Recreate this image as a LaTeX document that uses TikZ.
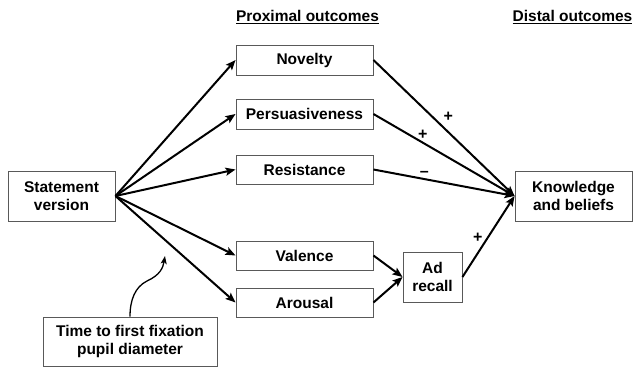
\documentclass[tikz,border=0pt]{standalone}
\usepackage{fontspec}
\setmainfont{Liberation Sans}
\usetikzlibrary{arrows.meta}
\definecolor{boxline}{gray}{0.35}
\tikzset{
  box/.style={draw=boxline, line width=0.9pt, fill=white, inner sep=0pt, align=center,
    font=\fontsize{15.5}{18.5}\selectfont\bfseries},
  arr/.style={line width=2pt, -{Stealth[length=10pt,width=8pt,inset=2pt]}},
  lbl/.style={font=\fontsize{16}{18}\selectfont\bfseries, inner sep=1pt},
  hdr/.style={font=\fontsize{15.5}{18}\selectfont\bfseries, inner sep=0pt},
}
\begin{document}
\begin{tikzpicture}[x=1pt,y=-1pt]
\useasboundingbox (0,0) rectangle (635,374);
% headers
\node[hdr] (hp) at (307.5,17) {\underline{Proximal outcomes}};
\node[hdr] (hd) at (572.5,17) {\underline{Distal outcomes}};
% boxes
\node[box, minimum width=107pt, minimum height=50pt] (stmt) at (61.5,196) {Statement\\version};
\node[box, minimum width=137pt, minimum height=30pt] (nov) at (304.5,60) {Novelty};
\node[box, minimum width=137pt, minimum height=30pt] (per) at (304.5,114) {Persuasiveness};
\node[box, minimum width=137pt, minimum height=29pt] (res) at (304.5,169.5) {Resistance};
\node[box, minimum width=137pt, minimum height=29pt] (val) at (304.5,255.5) {Valence};
\node[box, minimum width=137pt, minimum height=29pt] (aro) at (304.5,302.5) {Arousal};
\node[box, minimum width=59pt, minimum height=50pt] (ad) at (432.5,277) {Ad\\recall};
\node[box, minimum width=117pt, minimum height=50pt] (kb) at (573.5,196) {Knowledge\\and beliefs};
\node[box, minimum width=174pt, minimum height=49pt] (tf) at (130,341.5) {Time to first fixation\\pupil diameter};
\coordinate (tip) at (165,256);
% arrows from statement
\draw[arr] (stmt.east) -- (nov.west);
\draw[arr] (stmt.east) -- (per.west);
\draw[arr] (stmt.east) -- (res.west);
\draw[arr] (stmt.east) -- (val.west);
\draw[arr] (stmt.east) -- (aro.west);
% to knowledge
\draw[arr] (nov.east) -- node[lbl, pos=0.53, above=9pt] {+} (kb.west);
\draw[arr] (per.east) -- node[lbl, pos=0.35, above=1pt] {+} (kb.west);
\draw[arr] (res.east) -- node[lbl, pos=0.36, above=1pt] {\textendash} (kb.west);
\draw[arr] (ad.east) -- node[lbl, pos=0.48, left=3pt] {+} (kb.west);
% to ad recall
\draw[arr] (val.east) -- (ad.west);
\draw[arr] (aro.east) -- (ad.west);
% curved arrow
\draw[line width=1.3pt, -{Stealth[length=8pt,width=6pt,inset=2pt]}] (tf.north) .. controls (130,300) and (135,287) .. (147,281) .. controls (160,275) and (163,268) .. (tip);
\end{tikzpicture}
\end{document}
